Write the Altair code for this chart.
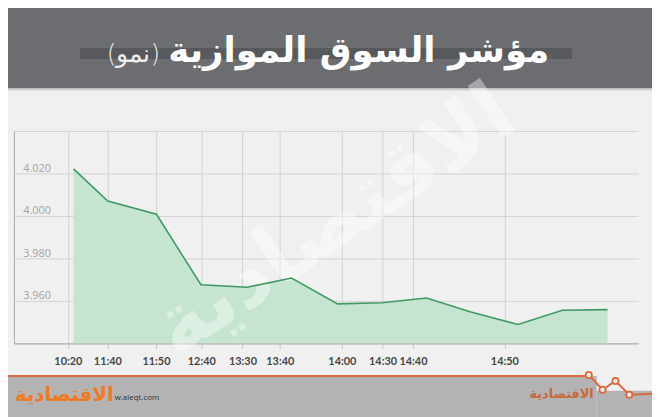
import altair as alt
import pandas as pd

# ---- data ----
x_pos = [6.03, 9.50, 14.43, 18.93, 23.60, 28.10, 32.77, 37.27, 41.77, 46.27, 51.03, 55.53, 60.10]
values = [4022.2, 4007.0, 4000.8, 3967.6, 3966.4, 3970.8, 3958.6, 3959.1, 3961.4, 3954.8, 3948.9, 3955.6, 3955.9]
tick_pos = [5.46, 9.46, 14.38, 18.97, 23.14, 26.92, 33.20, 37.32, 40.40, 49.65]
tick_labels = ["10:20", "11:40", "11:50", "12:40", "13:30", "13:40", "14:00", "14:30", "14:40", "14:50"]
y_ticks = [3940, 3960, 3980, 4000, 4020, 4040]
title_main = "مؤشر السوق الموازية"
title_sub = "(نمو)"
logo_text = "الاقتصادية"
site_text = "w.aleqt.com"

df = pd.DataFrame({"pos": x_pos, "value": values})
one = pd.DataFrame({"a": [0]})

x_label_expr = "[" + ",".join("'%s'" % t for t in tick_labels) + "][indexof([" + \
    ",".join(str(t) for t in tick_pos) + "], datum.value)]"

x_enc = alt.X(
    "pos:Q",
    scale=alt.Scale(domain=[0, 63.2], nice=False, zero=False),
    axis=alt.Axis(
        title=None, values=tick_pos, labelExpr=x_label_expr, labelOverlap=False,
        grid=True, gridColor="#d2d2d2", domainColor="#a8a8a8", domainWidth=1,
        tickColor="#c4c4c4", tickSize=5, labelFont="Lato", labelFontWeight="bold",
        labelFontSize=11, labelColor="#474747", labelPadding=7,
    ),
)
y_enc = alt.Y(
    "value:Q",
    scale=alt.Scale(domain=[3940, 4040], nice=False, zero=False),
    axis=alt.Axis(
        title=None, values=y_ticks, format=",d", labelOverlap=False,
        labelExpr="datum.value == 3940 || datum.value == 4040 ? '' : replace(datum.label, ',', '.')",
        grid=True, gridColor="#d2d2d2", domainColor="#a8a8a8", ticks=False, tickSize=0,
        labelAlign="left", labelPadding=-9, labelBaseline="alphabetic", labelOffset=-2,
        labelFont="Open Sans", labelFontSize=11, labelColor="#a3a3a3",
    ),
)

area = alt.Chart(df).mark_area(color="#c6e5d1", opacity=1).encode(
    x=x_enc, y=y_enc, y2=alt.datum(3940))
line = alt.Chart(df).mark_line(color="#3f9a62", strokeWidth=1.6).encode(x="pos:Q", y="value:Q")

watermark = alt.Chart(one).mark_text(
    text=logo_text, font="DejaVu Sans", fontWeight="bold", fontSize=84,
    angle=326, color="white", opacity=0.4, align="center", baseline="middle",
).encode(x=alt.value(325), y=alt.value(92))

# header
header = alt.Chart(one).mark_rect(color="#6c6d71").encode(
    x=alt.value(-6), x2=alt.value(646), y=alt.value(-130), y2=alt.value(-43))
header_line = alt.Chart(one).mark_rect(color="#cfcfcf").encode(
    x=alt.value(-6), x2=alt.value(646), y=alt.value(-43), y2=alt.value(-41))
title_bar = alt.Chart(one).mark_rect(color="#58595d").encode(
    x=alt.value(67), x2=alt.value(565), y=alt.value(-84), y2=alt.value(-73))
title1 = alt.Chart(one).mark_text(
    text=title_main, font="DejaVu Sans", fontWeight="bold", fontSize=36,
    color="white", align="right", baseline="alphabetic",
).encode(x=alt.value(542), y=alt.value(-70))
title2 = alt.Chart(one).mark_text(
    text=title_sub, font="DejaVu Sans", fontWeight=300, fontSize=25,
    color="#eeeeee", align="right", baseline="alphabetic",
).encode(x=alt.value(148), y=alt.value(-70))

# footer
footer1 = alt.Chart(one).mark_rect(color="#b3b3b3").encode(
    x=alt.value(-6), x2=alt.value(590), y=alt.value(248), y2=alt.value(290))
footer2 = alt.Chart(one).mark_rect(color="#b3b3b3").encode(
    x=alt.value(590), x2=alt.value(646), y=alt.value(263), y2=alt.value(290))
orange = "#d9693d"
seg_data = [(-6, 248, 582, 248), (582, 247, 596, 262), (596, 262, 609, 253),
            (609, 253, 623, 267), (623, 267, 646, 266)]
segs = [alt.Chart(one).mark_rule(color=orange, strokeWidth=2).encode(
    x=alt.value(a), y=alt.value(b), x2=alt.value(c), y2=alt.value(d)) for a, b, c, d in seg_data]
dots = [alt.Chart(one).mark_point(shape="circle", size=40, color=orange, fill="#e8e8e8",
                                  filled=False, strokeWidth=1.8, opacity=1).encode(
    x=alt.value(px), y=alt.value(py)) for px, py in [(582, 247), (596, 262), (609, 253), (623, 267)]]
logo_left = alt.Chart(one).mark_text(
    text=logo_text, font="DejaVu Sans", fontWeight="bold", fontSize=20,
    color="#f07a22", align="left", baseline="middle",
).encode(x=alt.value(1), y=alt.value(267))
site = alt.Chart(one).mark_text(
    text=site_text, font="Open Sans", fontSize=8, color="#333333",
    align="left", baseline="middle",
).encode(x=alt.value(102), y=alt.value(270))
logo_right = alt.Chart(one).mark_text(
    text=logo_text, font="DejaVu Sans", fontWeight="bold", fontSize=13,
    color="#c9683a", align="right", baseline="middle",
).encode(x=alt.value(587), y=alt.value(266))

chart = alt.layer(
    header, header_line, title_bar, title1, title2,
    area, watermark, line,
    footer1, footer2, *segs, *dots, logo_left, site, logo_right,
).properties(
    width=632, height=215,
    autosize=alt.AutoSizeParams(type="none"),
    padding={"left": 6, "top": 122, "right": 14, "bottom": 72},
    background="#f0f0f0",
).configure_view(stroke=None)

chart.save("out.html", embed_options={"renderer": "svg", "actions": False})
